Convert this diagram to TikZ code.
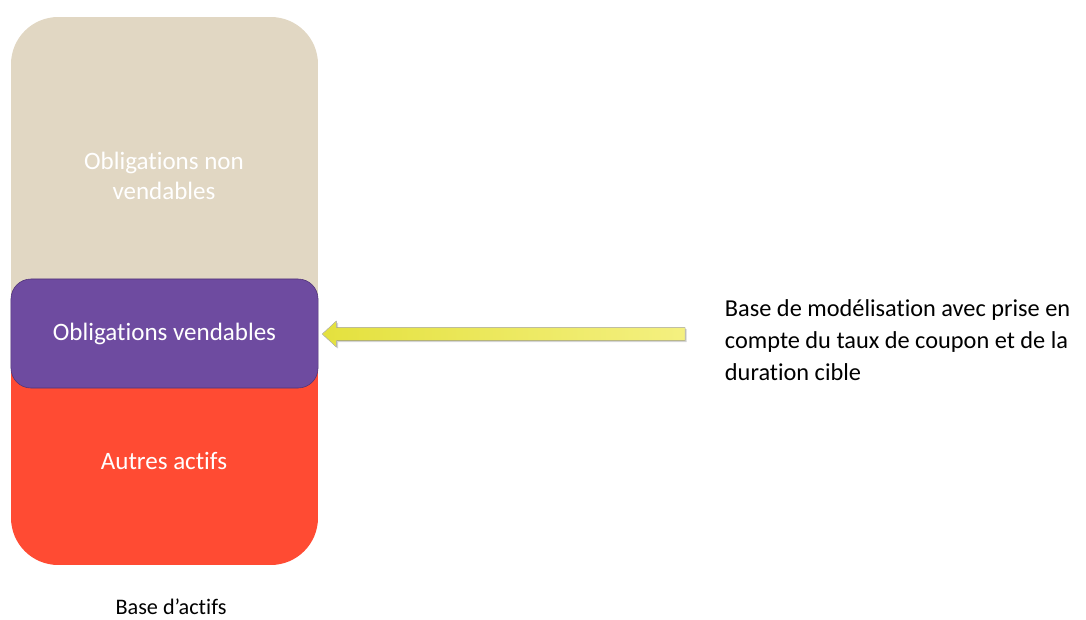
\documentclass[tikz,border=0pt]{standalone}
\usepackage{fontspec}
\setmainfont{Carlito}[Ligatures=NoCommon]
\usetikzlibrary{positioning, calc, shadows}

\definecolor{sandfill}{RGB}{225,215,195}
\definecolor{redfill}{RGB}{255,75,51}
\definecolor{violetfill}{RGB}{110,75,160}
\definecolor{violetline}{RGB}{80,52,120}
\definecolor{yelA}{RGB}{228,225,62}
\definecolor{yelB}{RGB}{249,243,82}
\definecolor{yelC}{RGB}{244,240,128}

\begin{document}
\begin{tikzpicture}[
  x=0.025cm, y=-0.025cm,
  font=\fontsize{17.3}{22.5}\selectfont,
  wtxt/.style={text=white, align=center, font=\fontsize{17.8}{21.5}\selectfont},
  blk/.style={draw=violetline, fill=#1, rounded corners=0.5cm, text=white,
              minimum width=7.675cm, minimum height=2.725cm, inner sep=0pt},
  yarr/.style={draw=black!25, line width=0.3pt, left color=yelA,
               middle color=yelB, right color=yelC,
               drop shadow={opacity=0.35, shadow xshift=1.2pt, shadow yshift=-1.2pt}},
]
\useasboundingbox (0,0) rectangle (1086,619);

%% ===== ASSET BASE =====

\begin{scope}
  \clip[rounded corners=1.18cm] (11,17) rectangle (318,565);
  \fill[sandfill] (11,17) rectangle (318,335);
  \fill[redfill]  (11,335) rectangle (318,565);
\end{scope}

\node[wtxt] (nonvend) at (164,176) {Obligations non\\vendables};
\node[wtxt] (autres) at (164,461) {Autres actifs};

\node[blk=violetfill, font=\fontsize{17.8}{21.5}\selectfont] (vendables)
    at (164.5,333.5) {Obligations vendables};

\node[font=\fontsize{15.8}{19}\selectfont, inner sep=0pt] (base) at (171,607) {Base d’actifs};

%% ===== NOTE & ARROW =====

\node[anchor=west, align=left] (note) at (720,340)
    {Base de modélisation avec prise en\\compte du taux de coupon et de la\\duration cible};

\coordinate (src) at (685,334);
\coordinate (tip) at ($(vendables.east)+(4,0.5)$);

\filldraw[yarr] (tip) -- ++(14,-13) -- ++(0,6.5) -- ($(src)+(0,-6.5)$)
    -- ($(src)+(0,6.5)$) -- ($(tip)+(14,6.5)$) -- ++(0,6.5) -- cycle;

\end{tikzpicture}
\end{document}
